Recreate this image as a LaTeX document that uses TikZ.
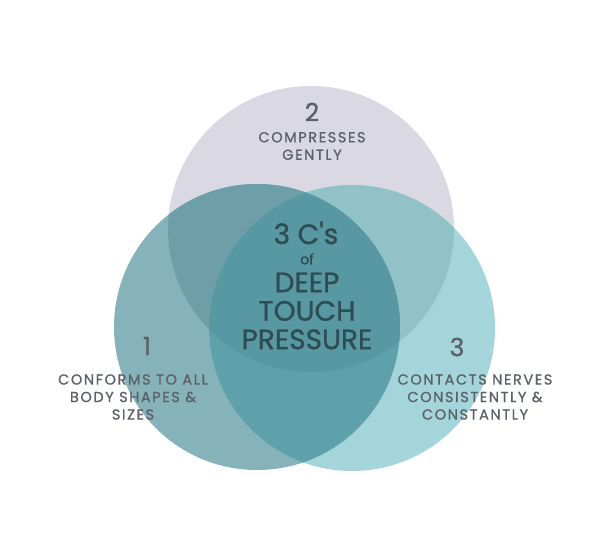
\documentclass[tikz,border=0pt]{standalone}
\usepackage{fontspec}
\newfontfamily\vennfont{Poppins}[FakeBold=0.9]
\newfontfamily\notefont{Poppins}[FakeBold=0.8, LetterSpace=11]
\usepackage{xcolor}
\usetikzlibrary{positioning}
\definecolor{topcolor}{HTML}{DAD9E3}
\definecolor{leftcolor}{HTML}{86B2B9}
\definecolor{rightcolor}{HTML}{A3D5DA}
\definecolor{lefttopcolor}{HTML}{6E9FA9}
\definecolor{righttopcolor}{HTML}{90C2C8}
\definecolor{leftrightcolor}{HTML}{5FA1AB}
\definecolor{centercolor}{HTML}{5898A3}
\definecolor{notecolor}{HTML}{5C6068}
\definecolor{titlecolor}{HTML}{2F4B53}

\begin{document}
\begin{tikzpicture}[
    x=1pt, y=-1pt,
    number/.style={inner sep=0pt, text=notecolor, font=\vennfont\fontsize{25}{25}\selectfont},
    note/.style={inner sep=0pt, align=center, text=notecolor, font=\notefont\fontsize{14.5}{17.5}\selectfont},
    title/.style={inner sep=0pt, align=center, text=titlecolor, font=\vennfont\fontsize{28}{28.5}\selectfont}
]
    \useasboundingbox[fill=white] (0,0) rectangle (612,553);

    % Circles
    \coordinate (ctop) at (311,229);
    \coordinate (cleft) at (257,327);
    \coordinate (cright) at (352,328);
    \def\rad{143}

    \fill[topcolor] (ctop) circle (\rad);
    \fill[leftcolor] (cleft) circle (\rad);
    \fill[rightcolor] (cright) circle (\rad);

    % Overlaps
    \begin{scope}
        \clip (ctop) circle (\rad);
        \fill[lefttopcolor] (cleft) circle (\rad);
        \fill[righttopcolor] (cright) circle (\rad);
    \end{scope}
    \begin{scope}
        \clip (cleft) circle (\rad);
        \fill[leftrightcolor] (cright) circle (\rad);
        \clip (ctop) circle (\rad);
        \fill[centercolor] (cright) circle (\rad);
    \end{scope}

    % Top circle
    \node[number] (two) at (312,112) {2};
    \node[note] (gently) at (312,146) {COMPRESSES\\GENTLY};

    % Centre
    \node[title] (cs) at (306,233) {3 C's};
    \node[title, font=\vennfont\fontsize{14}{14}\selectfont] (of) at (307,259) {of};
    \node[title] (dtp) at (307,311) {DEEP\\TOUCH\\PRESSURE};

    % Left circle
    \node[number] (one) at (147,346) {1};
    \node[note] (conforms) at (133,397) {CONFORMS TO ALL\\BODY SHAPES \&\\SIZES};

    % Right circle
    \node[number] (three) at (457,347) {3};
    \node[note] (contacts) at (475,397) {CONTACTS NERVES\\CONSISTENTLY \&\\CONSTANTLY};
\end{tikzpicture}
\end{document}
